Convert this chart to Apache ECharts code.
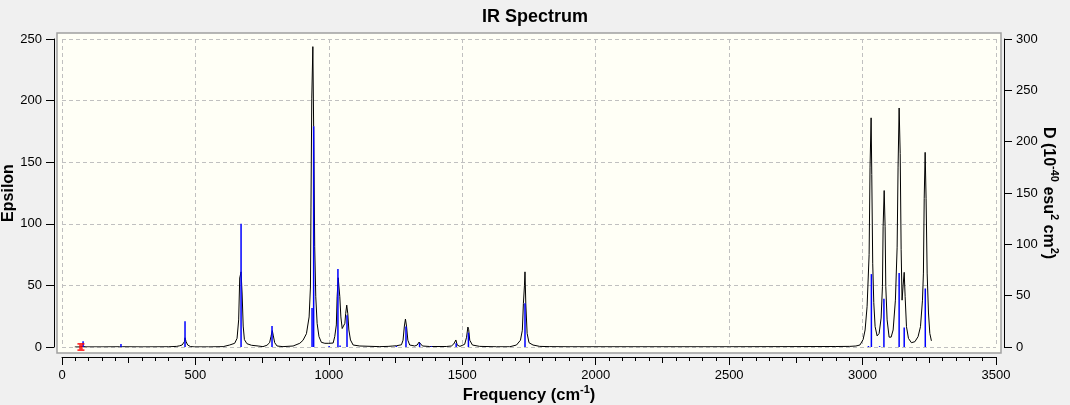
<!DOCTYPE html>
<html>
    <head>
    <title>IR Spectrum</title>
    <meta charset="UTF-8">
    <script src="https://cdn.jsdelivr.net/npm/echarts@6/dist/echarts.min.js"></script>
    <style>
        html, body { margin: 0; padding: 0; background: #f0f0f0; }
    </style>
	</head>
    <body>

       <div id="main" style="width:1070px;height:405px"></div>

    <script type="text/javascript">

      // broadened spectrum (black)
      var curveFreq = [48, 70, 79, 90, 150, 215, 221, 228, 300, 400, 430, 441, 450, 455, 458.6, 461, 465, 471, 481, 495,
          550, 604, 610, 628, 647, 656, 662, 666, 671, 675, 679, 683.5, 693, 710, 735, 753, 768, 778, 783, 788,
          792, 797, 806, 828, 866, 891, 903, 916, 926, 931, 933, 936, 940, 943, 947, 951, 956, 963, 972, 985,
          1000, 1016, 1022, 1028, 1031, 1035, 1038, 1041, 1045, 1050, 1055, 1060, 1063, 1067, 1071, 1075, 1081, 1091, 1116, 1191,
          1222, 1240, 1253, 1272, 1278, 1283, 1287, 1291, 1296, 1303, 1322, 1331, 1338, 1343, 1351, 1378, 1440, 1459, 1468, 1476,
          1481, 1491, 1509, 1516, 1521, 1524, 1528, 1538, 1565, 1628, 1678, 1703, 1718, 1725, 1729, 1733, 1735, 1738, 1743, 1750,
          1765, 1790, 1828, 1900, 2500, 2900, 2952, 2975, 2990, 3002, 3009.5, 3017, 3024.5, 3028, 3032, 3034.5, 3038, 3042, 3047, 3054.5,
          3062, 3069.5, 3074.5, 3077, 3081, 3084.5, 3087, 3092, 3099.5, 3107, 3114.5, 3123, 3129.5, 3133, 3137, 3141, 3144.5, 3148, 3152, 3156,
          3159.5, 3164.5, 3172, 3183, 3196, 3208, 3217, 3224.5, 3228, 3231, 3234.5, 3238, 3242, 3247, 3252, 3258];
      var curveEps = [0, 0.1, 0.4, 0.1, 0.1, 0.2, 0.4, 0.2, 0.1, 0.2, 0.5, 1, 1.6, 3, 4.3, 7.5, 4.3, 1.6, 0.4, 0.1,
          0.1, 0.3, 0.8, 1.6, 3, 7, 22, 56, 61, 43, 17, 6, 2.7, 1.4, 0.8, 0.3, 1.4, 3.5, 8.4, 13.3,
          9, 3.5, 0.8, 0.3, 0.8, 3, 5.4, 10.8, 24.4, 48.7, 113.6, 202, 243.8, 179, 81.4, 40.8, 19.2, 8.4, 3.8, 3,
          3, 3.2, 8.4, 17.9, 40.8, 56.2, 56, 40.8, 24.4, 15, 13.8, 19.2, 27, 34, 27, 13.8, 5.7, 1.6, 0.8, 0.3,
          0.5, 0.8, 1, 1.8, 5.5, 17, 22.7, 17, 5.5, 1.6, 0.8, 1.6, 4, 3, 0.8, 0.4, 0.4, 0.8, 2.4, 5.7,
          1.6, 0.5, 2.2, 7.9, 16.2, 14, 5.5, 1.6, 0.5, 0.2, 0.2, 1.6, 5.5, 13.6, 35.3, 50, 61, 35, 11, 3.5,
          1.6, 0.5, 0.3, 0.2, 0.2, 0.4, 0.5, 0.8, 1.6, 6, 13.8, 33, 75, 146, 186, 140, 68, 36, 16.5, 9,
          11, 23.5, 49, 97.6, 127, 97.6, 49, 22, 8, 8, 13.8, 38, 81, 146, 194, 157, 79, 38, 50, 60.6,
          41, 16.5, 7, 3.5, 4.3, 8.4, 16.5, 38, 60, 120.7, 158, 120.7, 60, 27.6, 11, 5];

      // stick intensities (blue), right axis
      var stickFreq = [79, 221, 461, 671, 787, 937, 943, 1001, 1034, 1042, 1068, 1253, 1289, 1340, 1384, 1477, 1523, 1735,
          3022, 3033, 3064, 3080, 3137, 3156, 3235];
      var stickD = [5.5, 3, 25, 120, 20.5, 38, 215, 1, 76, 1.5, 31, 1, 20, 4, 0.8, 3.6, 14, 42.5,
          1, 71, 0.8, 47, 72, 19, 57];

      // red marker
      var markFreq = [71];
      var markEps = [0];

      var curveData = [];
      for (var i = 0; i < curveFreq.length; i++) {
          curveData.push([curveFreq[i], curveEps[i]]);
      }
      var stickData = [];
      for (var j = 0; j < stickFreq.length; j++) {
          stickData.push([stickFreq[j], stickD[j]]);
      }
      var markData = [[markFreq[0], markEps[0]]];

      var fontName = "'Liberation Sans', Arial, sans-serif";
      var gridLine = { show: true, lineStyle: { color: '#c0c0c0', type: [4, 3], width: 1 } };
      var plain = function (v) { return String(v); };
      var axisLabel = { color: '#000', fontSize: 13, fontFamily: fontName, formatter: plain };
      var blackLine = { show: true, onZero: false, lineStyle: { color: '#000', width: 1 } };

      var option = {
          animation: false,
          backgroundColor: '#f0f0f0',
          title: {
              text: 'IR Spectrum',
              left: 'center',
              top: 3,
              textStyle: { fontSize: 18, fontWeight: 'bold', color: '#000', fontFamily: fontName }
          },
          graphic: [{
              type: 'rect',
              z: -10,
              silent: true,
              shape: { x: 57, y: 33, width: 944, height: 320 },
              style: { fill: '#fffff6', stroke: '#a0a0a0', lineWidth: 1.5 }
          }],
          grid: {
              left: 62,
              right: 74,
              top: 39,
              bottom: 58,
              containLabel: false,
              outerBoundsMode: 'none'
          },
          xAxis: [{
              type: 'value',
              min: 0,
              max: 3500,
              interval: 500,
              position: 'bottom',
              offset: 10,
              name: '{b|Frequency (cm}{s|-1}{b|)}',
              nameLocation: 'middle',
              nameGap: 27,
              nameMoveOverlap: false,
              nameTextStyle: {
                  rich: {
                      b: { fontSize: 16.5, fontWeight: 'bold', color: '#000', fontFamily: fontName, lineHeight: 20, verticalAlign: 'bottom' },
                      s: { fontSize: 11, fontWeight: 'bold', color: '#000', fontFamily: fontName, lineHeight: 20, verticalAlign: 'top' }
                  }
              },
              axisLine: blackLine,
              axisTick: { show: true, length: 8, lineStyle: { color: '#000' } },
              minorTick: { show: true, splitNumber: 10, length: 4, lineStyle: { color: '#000' } },
              axisLabel: Object.assign({ margin: 12 }, axisLabel),
              splitLine: gridLine
          }, {
              type: 'value',
              min: 0,
              max: 3500,
              interval: 250,
              position: 'bottom',
              offset: 10,
              axisLine: { show: false, onZero: false },
              axisTick: { show: true, length: 6, lineStyle: { color: '#000' } },
              axisLabel: { show: false },
              splitLine: { show: false }
          }],
          yAxis: [{
              type: 'value',
              min: 0,
              max: 250,
              interval: 50,
              position: 'left',
              offset: 8,
              name: 'Epsilon',
              nameLocation: 'middle',
              nameGap: 37,
              nameMoveOverlap: false,
              nameTextStyle: { fontSize: 16, fontWeight: 'bold', color: '#000', fontFamily: fontName },
              axisLine: blackLine,
              axisTick: { show: true, length: 8, lineStyle: { color: '#000' } },
              axisLabel: Object.assign({ margin: 12 }, axisLabel),
              splitLine: gridLine
          }, {
              type: 'value',
              min: 0,
              max: 300,
              interval: 50,
              position: 'right',
              offset: 8,
              name: '{b|D (10}{s|-40}{b| esu}{s|2}{b| cm}{s|2}{b|)}',
              nameLocation: 'middle',
              nameRotate: -90,
              nameGap: 36,
              nameMoveOverlap: false,
              nameTextStyle: {
                  rich: {
                      b: { fontSize: 16, fontWeight: 'bold', color: '#000', fontFamily: fontName, lineHeight: 20, verticalAlign: 'bottom' },
                      s: { fontSize: 11, fontWeight: 'bold', color: '#000', fontFamily: fontName, lineHeight: 20, verticalAlign: 'top' }
                  }
              },
              axisLine: blackLine,
              axisTick: { show: true, length: 8, lineStyle: { color: '#000' } },
              axisLabel: Object.assign({ margin: 12 }, axisLabel),
              splitLine: { show: false }
          }],
          series: [{
              name: 'Epsilon',
              type: 'line',
              xAxisIndex: 0,
              yAxisIndex: 0,
              data: curveData,
              showSymbol: false,
              symbol: 'none',
              lineStyle: { color: '#000', width: 1 },
              z: 3
          }, {
              name: 'D',
              type: 'custom',
              xAxisIndex: 0,
              yAxisIndex: 1,
              data: stickData,
              z: 4,
              renderItem: function (params, api) {
                  var p0 = api.coord([api.value(0), 0]);
                  var p1 = api.coord([api.value(0), api.value(1)]);
                  return {
                      type: 'line',
                      shape: { x1: p0[0], y1: p0[1], x2: p1[0], y2: p1[1] },
                      style: { stroke: '#0000ff', lineWidth: 1.5 }
                  };
              }
          }, {
              name: 'marker',
              type: 'scatter',
              xAxisIndex: 0,
              yAxisIndex: 0,
              data: markData,
              symbol: 'path://M0,0 H8 V2 H6 V7 H8 V9 H0 V7 H2 V2 H0 Z',
              symbolSize: [7, 8],
              itemStyle: { color: '#ff0000' },
              z: 5
          }]
      };

      var myChart = echarts.init(document.getElementById("main"));
      myChart.setOption(option);

   </script>
   </body>
</html>
